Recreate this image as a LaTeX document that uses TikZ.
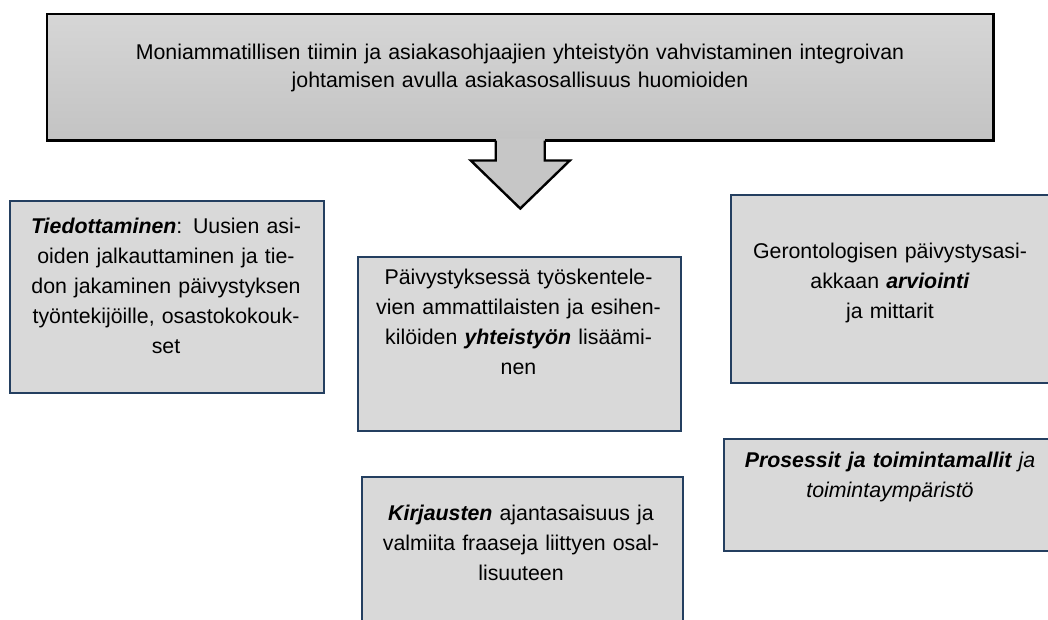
\documentclass[tikz,border=0pt]{standalone}
\usepackage{fontspec}
\setmainfont{Liberation Sans}
\usetikzlibrary{calc}
\definecolor{boxfill}{HTML}{D9D9D9}
\definecolor{boxline}{HTML}{243F60}
\definecolor{goaltop}{HTML}{D6D6D6}
\definecolor{goalbottom}{HTML}{C3C3C3}
\definecolor{arrowfill}{HTML}{C6C6C6}
\tikzset{
  goalbox/.style={rectangle, anchor=north west, inner sep=0pt,
    top color=goaltop, bottom color=goalbottom},
  themebox/.style={rectangle, anchor=north west, inner sep=0pt,
    fill=boxfill, draw=boxline, line width=1.5pt},
  txt/.style={inner sep=0pt, align=center, anchor=north, text width=235pt,
    font=\fontsize{16}{22.5}\selectfont}
}
\newcommand{\kw}[1]{\textbf{\textit{#1}}}
\begin{document}
\begin{tikzpicture}[x=0.75pt,y=-0.75pt]
\useasboundingbox (0,0) rectangle (1048,619);
\clip (0,0) rectangle (1048,619);

% main goal box with its downward arrow
\node[goalbox, minimum width=709.5pt, minimum height=94.5pt] (goal) at (47,14) {};
\coordinate (sl) at ($(goal.south)+(-24.5,0)$);
\coordinate (sr) at ($(goal.south)+(24.5,0)$);
\fill[arrowfill] ($(sl)+(0,-2)$) -- ($(sl)+(0,20)$) -- ($(goal.south)+(-49.5,20)$)
  -- ($(goal.south)+(0,68)$) -- ($(goal.south)+(49.5,20)$) -- ($(sr)+(0,20)$)
  -- ($(sr)+(0,-2)$) -- cycle;
\draw[line width=2pt, line join=miter] (sl) -- (goal.south west) -- (goal.north west)
  -- (goal.north east) -- (goal.south east) -- (sr);
\draw[line width=1.8pt, line join=miter] (sl) -- ($(sl)+(0,20)$) -- ($(goal.south)+(-49.5,20)$)
  -- ($(goal.south)+(0,68)$) -- ($(goal.south)+(49.5,20)$) -- ($(sr)+(0,20)$) -- (sr);
\node[txt, text width=700pt, font=\fontsize{16}{21}\selectfont] (goaltext) at (520,44)
  {Moniammatillisen tiimin ja asiakasohjaajien yhteistyön vahvistaminen integroivan\\
   johtamisen avulla asiakasosallisuus huomioiden};

% theme boxes
\node[themebox, minimum width=235.5pt, minimum height=144pt] (info) at (9,200) {};
\node[txt] (infotext) at (166,218)
  {\kw{Tiedottaminen}: Uusien asi-\\oiden jalkauttaminen ja tie-\\don jakaminen päivystyksen\\työntekijöille, osastokokouk-\\set};

\node[themebox, minimum width=242.25pt, minimum height=130.5pt] (coop) at (357,256) {};
\node[txt] (cooptext) at (518.5,269)
  {Päivystyksessä työskentele-\\vien ammattilaisten ja esihen-\\kilöiden \kw{yhteistyön} lisäämi-\\nen};

\node[themebox, minimum width=240pt, minimum height=141pt] (eval) at (730,194) {};
\node[txt] (evaltext) at (890,243)
  {Gerontologisen päivystysasi-\\akkaan \kw{arviointi}\\ja mittarit};

\node[themebox, minimum width=245.25pt, minimum height=84pt] (proc) at (723,438) {};
\node[txt, font=\fontsize{16}{22.5}\selectfont\itshape] (proctext) at (890,452)
  {\textbf{Prosessit ja toimintamallit} ja\\toimintaympäristö};

\node[themebox, minimum width=240.75pt, minimum height=138pt] (rec) at (361,476) {};
\node[txt] (rectext) at (521,505)
  {\kw{Kirjausten} ajantasaisuus ja\\valmiita fraaseja liittyen osal-\\lisuuteen};
\end{tikzpicture}
\end{document}
